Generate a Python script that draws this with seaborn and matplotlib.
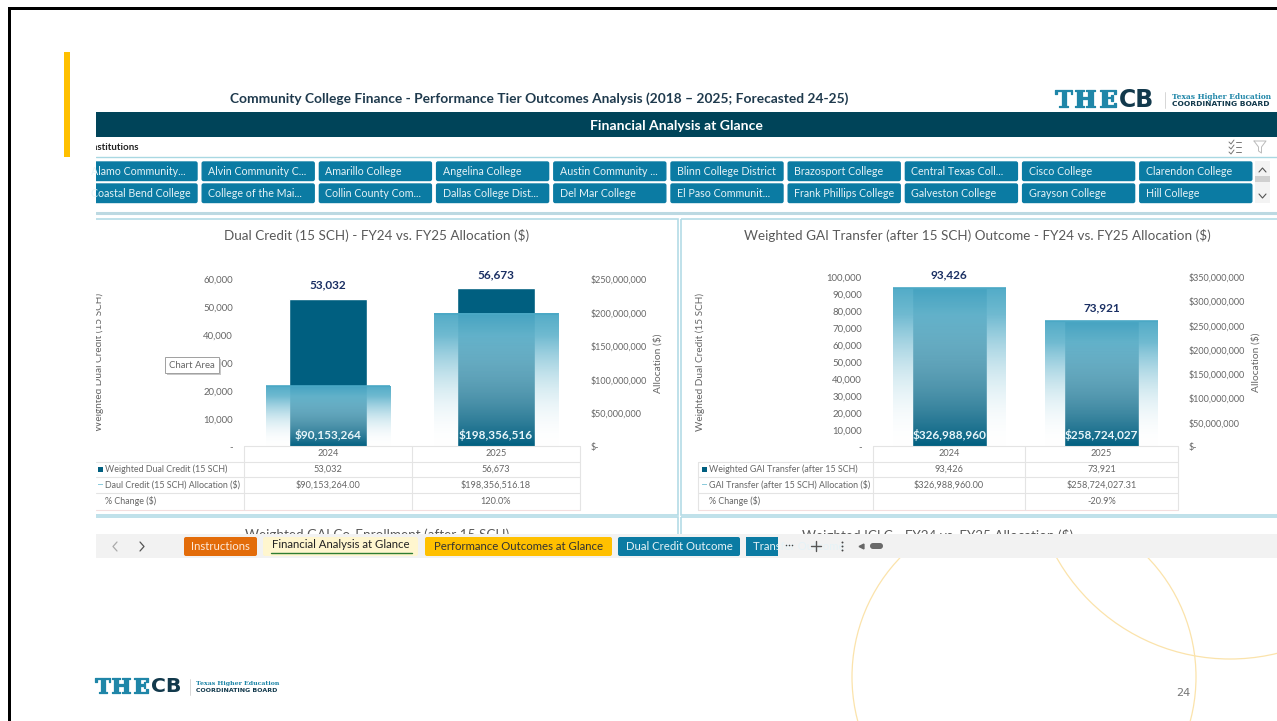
import matplotlib
matplotlib.use("Agg")
import matplotlib.patheffects as pe
import matplotlib.pyplot as plt
import numpy as np
import pandas as pd
import seaborn as sns
from matplotlib.colors import to_rgb
from matplotlib.patches import Circle, FancyBboxPatch, Rectangle

W, H = 1277, 721

years = ["2024", "2025"]
dual_credit = [53032, 56673]
dual_alloc = [90153264.00, 198356516.18]
dual_change = ["", "120.0%"]
gai_transfer = [93426, 73921]
gai_alloc = [326988960.00, 258724027.31]
gai_change = ["", "-20.9%"]

dual_ticks = [0, 10000, 20000, 30000, 40000, 50000, 60000]
dual_alloc_ticks = [0, 50000000, 100000000, 150000000, 200000000, 250000000]
gai_ticks = [0, 10000, 20000, 30000, 40000, 50000, 60000, 70000, 80000, 90000, 100000]
gai_alloc_ticks = [0, 50000000, 100000000, 150000000, 200000000, 250000000, 300000000, 350000000]

row1 = ["Alamo Community...", "Alvin Community C...", "Amarillo College", "Angelina College",
        "Austin Community ...", "Blinn College District", "Brazosport College",
        "Central Texas Coll...", "Cisco College", "Clarendon College"]
row2 = ["Coastal Bend College", "College of the Mai...", "Collin County Com...", "Dallas College Dist...",
        "Del Mar College", "El Paso Communit...", "Frank Phillips College", "Galveston College",
        "Grayson College", "Hill College"]

DARK = "#005f80"
LIGHT = "#4aa8c5"
TEAL = "#0b7ba3"
GREY = "#666666"
NAVY = "#1a2f63"


def px_axes(fig, left, top, right, bottom, **kw):
    return fig.add_axes([left / W, 1 - bottom / H, (right - left) / W, (bottom - top) / H], **kw)


def rect(ax, x0, y0, x1, y1, color, z=1, **kw):
    ax.add_patch(Rectangle((x0, y0), x1 - x0, y1 - y0, facecolor=color, edgecolor="none", zorder=z, **kw))


def gradient_bars(ax, bars):
    # seaborn draws the bars, the fill is swapped for a fade that pales as it goes transparent
    n = 200
    t = np.linspace(1, 0, n)[:, None]
    c = np.array(to_rgb(LIGHT))
    img = np.zeros((n, 1, 4))
    img[..., :3] = t[..., None] * c + (1 - t[..., None]) * 1.0
    img[..., 3] = 0.95 * np.clip(1.2 * t, 0, 1)
    for p in bars:
        x0, w, h = p.get_x(), p.get_width(), p.get_height()
        ax.imshow(img, extent=(x0, x0 + w, 0, h), aspect="auto", zorder=3, interpolation="bilinear")
        ax.plot([x0, x0 + w], [h, h], color=LIGHT, lw=1.2, zorder=4, solid_capstyle="butt")
        p.set_visible(False)


def chart(fig, box, volume, alloc, ticks, alloc_ticks, bar_w, wide_w):
    df = pd.DataFrame({"year": years, "volume": volume, "alloc": alloc})
    ax = px_axes(fig, *box, zorder=1)
    ax.patch.set_alpha(0)
    sns.barplot(data=df, x="year", y="volume", color=DARK, saturation=1, width=bar_w, ax=ax)
    ax2 = ax.twinx()
    sns.barplot(data=df, x="year", y="alloc", color=LIGHT, saturation=1, width=wide_w, ax=ax2)
    gradient_bars(ax2, list(ax2.patches))

    ax.set_xlim(-0.5, 1.5)
    ax.set_ylim(0, ticks[-1])
    ax2.set_ylim(0, alloc_ticks[-1])
    ax.set_xticks([])
    ax.set_xlabel("")
    ax.set_ylabel("")
    ax2.set_ylabel("")
    ax.set_yticks(ticks, [f"{t:,}" if t else "-" for t in ticks])
    ax2.set_yticks(alloc_ticks, [f"${t:,}" if t else "$-" for t in alloc_ticks])
    ax.tick_params(axis="y", length=0, pad=8, labelsize=6.9, labelcolor=GREY)
    ax2.tick_params(axis="y", length=0, pad=7.5, labelsize=6.45, labelcolor=GREY)
    for a in (ax, ax2):
        a.grid(False)
        for s in a.spines.values():
            s.set_visible(False)

    for i, (v, m) in enumerate(zip(volume, alloc)):
        ax.annotate(f"{v:,}", (i, v), xytext=(0, 9.5), textcoords="offset points", ha="center", va="center",
                    fontsize=8.5, fontweight="bold", color=NAVY)
        ax2.annotate(f"${m:,.0f}", (i, 0), xytext=(0, 8.8), textcoords="offset points", ha="center", va="center",
                     fontsize=8.5, fontweight="bold", color="#e8f6fa", zorder=6)
    return ax, ax2


def table(ov, xa, xb, xc, left_edge, names, volume, alloc, change, lab_x):
    ys = [446, 462, 477, 493, 510]
    for y in ys[1:-1]:
        ov.plot([left_edge, xc], [y, y], color="#e4e4e4", lw=0.8, zorder=3)
    ov.plot([xa, xc], [ys[0], ys[0]], color="#e4e4e4", lw=0.8, zorder=3)
    ov.plot([left_edge, xc], [ys[-1], ys[-1]], color="#f3dede", lw=0.8, zorder=3)
    for x in (xa, xb, xc):
        ov.plot([x, x], [ys[0], ys[-1]], color="#e4e4e4", lw=0.8, zorder=3)
    cx = [(xa + xb) / 2, (xb + xc) / 2]
    for i in range(2):
        ov.text(cx[i], 454, years[i], **CELL)
        ov.text(cx[i], 469.5, f"{volume[i]:,}", **CELL)
        ov.text(cx[i], 485, f"${alloc[i]:,.2f}", **CELL)
        ov.text(cx[i], 501, change[i], **CELL)
    for y, name in zip([469, 484.5, 500.5], names):
        ov.text(lab_x, y, name, ha="left", va="center", fontsize=6.4, color=GREY, zorder=4)
    rect(ov, lab_x - 7, 466.5, lab_x - 2, 472, DARK, z=4)
    rect(ov, lab_x - 7, 483.5, lab_x - 2, 484.7, "#8ccbdc", z=4)


def logo(ov, x, y, size, small):
    em = size * 100 / 72
    heavy = [pe.withStroke(linewidth=0.9, foreground="#1f86a8")]
    for off, ch in zip([0, 0.8, 1.87], "THE"):
        ov.text(x + off * em, y, ch, fontsize=size, fontfamily="DejaVu Serif", fontweight="bold",
                color="#1f86a8", ha="left", va="center", zorder=9, path_effects=heavy)
    ov.text(x + 2.72 * em, y, "CB", fontsize=size, fontfamily="DejaVu Sans", fontweight="bold",
            color="#12394c", ha="left", va="center", zorder=9)
    dx = 4.66 * em
    ov.plot([x + dx, x + dx], [y - 8, y + 8], color="#d0d0d0", lw=0.6, zorder=9)
    ov.text(x + dx + 0.3 * em, y - 3.4, "Texas Higher Education", fontsize=small, fontfamily="DejaVu Serif",
            fontweight="bold", color="#1f86a8", ha="left", va="center", zorder=9)
    ov.text(x + dx + 0.3 * em, y + 3.6, "COORDINATING BOARD", fontsize=small, fontfamily="DejaVu Sans",
            fontweight="bold", color="#12394c", ha="left", va="center", zorder=9)


sns.set_theme(style="white")
plt.rcParams["font.family"] = ["Lato", "DejaVu Sans"]
CELL = dict(ha="center", va="center", fontsize=6.6, color=GREY, zorder=4)

fig = plt.figure(figsize=(W / 100, H / 100), dpi=100, facecolor="white")

# background layer, drawn in pixel coordinates of the screenshot
bg = px_axes(fig, 0, 0, W, H, zorder=0)
bg.set_xlim(0, W)
bg.set_ylim(H, 0)
bg.axis("off")
for xc, yc, r in [(1024, 677, 172), (1230, 460, 199)]:
    bg.add_patch(Circle((xc, yc), r, fill=False, edgecolor="#fbe3ab", lw=0.9, zorder=1))
rect(bg, 90, 90, W, 558, "white", z=2)
for x0, wd in [(90, 588), (681, 600)]:
    bg.add_patch(Rectangle((x0, 219), wd, 296, fill=False, edgecolor="#b4dce6", lw=1.2, zorder=3))
    bg.add_patch(Rectangle((x0, 517), wd, 40, fill=False, edgecolor="#b4dce6", lw=1.2, zorder=3))

chart(fig, (244, 279, 580, 447), dual_credit, dual_alloc, dual_ticks, dual_alloc_ticks, 0.47, 0.74)
chart(fig, (873, 277, 1178, 447), gai_transfer, gai_alloc, gai_ticks, gai_alloc_ticks, 0.49, 0.74)

# everything around the plots sits on a transparent layer above them
ov = px_axes(fig, 0, 0, W, H, zorder=5)
ov.patch.set_alpha(0)
ov.set_xlim(0, W)
ov.set_ylim(H, 0)
ov.axis("off")

ov.text(99, 362, "Weighted Dual Credit (15 SCH)", rotation=90, ha="center", va="center", fontsize=7.2, color=GREY, zorder=1)
ov.text(700, 362, "Weighted Dual Credit (15 SCH)", rotation=90, ha="center", va="center", fontsize=7.2, color=GREY)
ov.text(658, 363, "Allocation ($)", rotation=90, ha="center", va="center", fontsize=7.4, color=GREY)
ov.text(1256, 362, "Allocation ($)", rotation=90, ha="center", va="center", fontsize=7.4, color=GREY)

ov.text(377, 236, "Dual Credit (15 SCH) - FY24 vs. FY25 Allocation ($)", ha="center", va="center", fontsize=9.7, color="#595959")
ov.text(977, 236, "Weighted GAI Transfer (after 15 SCH) Outcome - FY24 vs. FY25 Allocation ($)", ha="center", va="center", fontsize=9.7, color="#595959")
ov.text(377, 535, "Weighted GAI Co-Enrollment (after 15 SCH)", ha="center", va="center", fontsize=9.7, color="#595959", zorder=1)
ov.text(938, 535, "Weighted ICLC - FY24 vs. FY25 Allocation ($)", ha="center", va="center", fontsize=9.7, color="#595959", zorder=1)

table(ov, 244, 412, 580, 96, ["Weighted Dual Credit (15 SCH)", "Daul Credit (15 SCH) Allocation ($)", "% Change ($)"],
      dual_credit, dual_alloc, dual_change, 105)
table(ov, 873, 1025, 1178, 698, ["Weighted GAI Transfer (after 15 SCH)", "GAI Transfer (after 15 SCH) Allocation ($)", "% Change ($)"],
      gai_transfer, gai_alloc, gai_change, 709)
ov.plot([698, 698], [462, 510], color="#e4e4e4", lw=0.8, zorder=3)

# tooltip
rect(ov, 167, 359, 221, 375, "#c8c8c8", z=6)
ov.add_patch(Rectangle((165, 357), 54, 16, facecolor="white", edgecolor="#a0a0a0", lw=0.7, zorder=6))
ov.text(192, 365.5, "Chart Area", ha="center", va="center", fontsize=6.9, color=GREY, zorder=7)

# header and slicer
ov.text(539, 98.5, "Community College Finance - Performance Tier Outcomes Analysis (2018 \u2013 2025; Forecasted 24-25)",
        ha="center", va="center", fontsize=9.9, fontweight="bold", color="#1f3a4d", zorder=4)
rect(ov, 96, 112, W, 137, "#004459", z=2)
ov.text(676, 126, "Financial Analysis at Glance", ha="center", va="center", fontsize=10.1, fontweight="bold", color="white", zorder=4)
ov.text(139, 147, "Institutions", ha="right", va="center", fontsize=7, fontweight="bold", color="#222222", zorder=2)
ov.plot([96, W], [157, 157], color="#a9d8e2", lw=1, zorder=2)
ov.plot([96, W], [213, 213], color="#bcd9e2", lw=2.2, zorder=2)
for row, y0 in [(row1, 161), (row2, 183)]:
    for i, name in enumerate(row):
        x0 = 84 + i * 117.2
        ov.add_patch(FancyBboxPatch((x0 + 1, y0 + 1), 112, 18.5, boxstyle="round,pad=0,rounding_size=1.5",
                                    facecolor=TEAL, edgecolor=TEAL, lw=1, zorder=2))
        ov.text(x0 + 7, y0 + 10.5, name, ha="left", va="center", fontsize=7.7, color="#e6f3f7", zorder=3)
rect(ov, 1255, 161, 1270, 203, "#f3f3f3", z=2)
rect(ov, 1255, 176, 1270, 182, "#d0d0d0", z=3)
ov.plot([1259, 1262.5, 1266], [172, 168, 172], color="#555555", lw=0.8, zorder=3)
ov.plot([1259, 1262.5, 1266], [194, 198, 194], color="#555555", lw=0.8, zorder=3)
for y in (142, 147, 152):
    ov.plot([1236, 1241], [y, y], color="#777777", lw=0.7)
    ov.plot([1229, 1231, 1234], [y, y + 2, y - 2], color="#777777", lw=0.7)
ov.plot([1254, 1266, 1261.5, 1261.5, 1258.5, 1258.5, 1254], [141, 141, 147, 153, 151, 147, 141], color="#bbbbbb", lw=0.7)

# mask for the cropped screenshot edge
rect(ov, 10.5, 100, 96, 560, "white", z=2.5)
rect(ov, 64, 52, 70, 157, "#ffc000", z=3)

# tab strip
rect(ov, 96, 534, W, 558, "#f2f2f2", z=4)
ov.plot([117, 113, 117], [542, 546.5, 551], color="#aaaaaa", lw=0.9, zorder=5)
ov.plot([140, 144, 140], [542, 546.5, 551], color="#555555", lw=0.9, zorder=5)
tabs = [("Instructions", 184, 257, "#e36c0a", "#fde9d9"),
        ("Financial Analysis at Glance", 263, 418, "#fff6cf", "#222222"),
        ("Performance Outcomes at Glance", 425, 612, "#ffc000", "#333333"),
        ("Dual Credit Outcome", 618, 740, "#0b7ba3", "#e6f3f7")]
for name, x0, x1, col, tc in tabs:
    ov.add_patch(FancyBboxPatch((x0, 537), x1 - x0, 19, boxstyle="round,pad=0,rounding_size=2",
                                facecolor=col, edgecolor="none", zorder=5))
    ov.text((x0 + x1) / 2, 545 if x0 == 263 else 547, name, ha="center", va="center", fontsize=8.2, color=tc, zorder=6)
ov.plot([271, 412], [553, 553], color="#2e7d32", lw=1, zorder=6)
tran = FancyBboxPatch((746, 537), 32, 19, boxstyle="square,pad=0", facecolor=TEAL, edgecolor="none", zorder=5)
ov.add_patch(tran)
t = ov.text(753, 547, "Transfer Outcome", ha="left", va="center", fontsize=8.2, color="#e6f3f7", zorder=6)
t.set_clip_path(tran)
ov.plot([786, 789, 792], [545, 545, 545], ls="none", marker="o", ms=1.1, mew=0, color="#444444", zorder=6)
ov.plot([811, 821], [546, 546], color="#555555", lw=1, zorder=6)
ov.plot([816, 816], [541, 551], color="#555555", lw=1, zorder=6)
ov.plot([842, 842, 842], [542, 546, 550], ls="none", marker="o", ms=1.4, mew=0, color="#444444", zorder=6)
ov.plot([861], [546], ls="none", marker="<", ms=3.5, color="#666666", zorder=6)
ov.add_patch(FancyBboxPatch((870, 543), 13, 6, boxstyle="round,pad=0,rounding_size=3", facecolor="#6a6a6a", edgecolor="none", zorder=6))

logo(ov, 1055, 100, 17, 5.4)
logo(ov, 95, 687, 14.7, 4.5)
ov.text(1183, 693, "24", ha="center", va="center", fontsize=8.2, color="#777777", fontfamily="DejaVu Sans")

# slide frame
rect(ov, 8, 7, W, 9.5, "black", z=10)
rect(ov, 8, 7, 10.5, H, "black", z=10)

fig.savefig("out.png", dpi=100)
